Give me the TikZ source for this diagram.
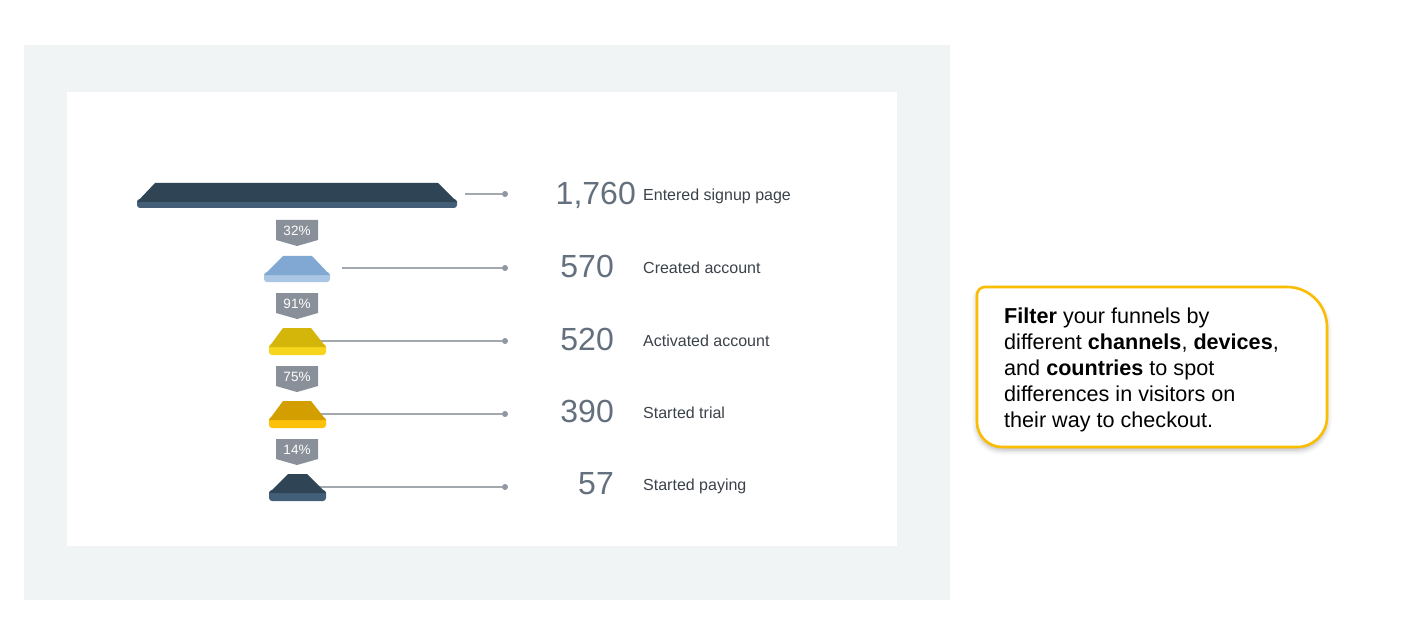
\documentclass[tikz,border=0pt]{standalone}
\usepackage{fontspec}
\setmainfont{Liberation Sans}
\usepackage{tikz}
\usetikzlibrary{positioning, shadows.blur}

\definecolor{bgGray}{HTML}{F1F4F5}
\definecolor{darkMain}{HTML}{2F4455}
\definecolor{darkBand}{HTML}{435F78}
\definecolor{blueMain}{HTML}{80A8D2}
\definecolor{blueBand}{HTML}{A9C6E4}
\definecolor{yellowMain}{HTML}{D4B60A}
\definecolor{yellowBand}{HTML}{F7D51D}
\definecolor{orangeMain}{HTML}{D39E00}
\definecolor{orangeBand}{HTML}{FDC10A}
\definecolor{badgeGray}{HTML}{8A9099}
\definecolor{lineGray}{HTML}{A3A8AF}
\definecolor{dotGray}{HTML}{8F97A1}
\definecolor{numGray}{HTML}{64707D}
\definecolor{lblGray}{HTML}{3C4249}
\definecolor{tipYellow}{HTML}{FBBC04}

\begin{document}
\begin{tikzpicture}[x=1pt, y=-1pt,
    funnel line/.style={draw=lineGray, line width=1.2pt},
    dotnode/.style={circle, fill=dotGray, inner sep=0pt, minimum size=6pt},
    pct/.style={text=white, inner sep=0pt, font=\fontsize{13.5}{13.5}\selectfont},
    num/.style={text=numGray, inner sep=0pt, anchor=base east, font=\fontsize{32}{32}\selectfont},
    lbl/.style={text=lblGray, inner sep=0pt, anchor=base west, font=\fontsize{16}{16}\selectfont}]
    \useasboundingbox (0,0) rectangle (1407,636);

    % Hintergrund
    \fill[bgGray] (24,45) rectangle (950,600);
    \fill[white] (67,92) rectangle (897,546);

    % Verbindungslinien mit Punkten
    \foreach \x/\y [count=\i] in {465/194, 342/268, 300/341, 300/414, 300/487} {
        \coordinate (b\i) at (\x,\y);
        \node[dotnode] (d\i) at (505,\y) {};
        \draw[funnel line] (b\i) -- (d\i);
    }

    % Trichterbalken
    \foreach \t/\h/\tl/\tr/\bl/\br/\cm/\cb in {183/25/155/438/137/457/darkMain/darkBand,
            256/26/283/312/264/330/blueMain/blueBand,
            328/27/283/311/269/326/yellowMain/yellowBand,
            401/27/283/311/269/326/orangeMain/orangeBand,
            474/27/288/307/269/326/darkMain/darkBand} {
        \fill[\cb, rounded corners=3pt] (\bl,\t+16) rectangle (\br,\t+\h);
        \fill[\cm] (\tl,\t) -- (\tr,\t) -- (\br,\t+19) -- (\bl,\t+19) -- cycle;
    }

    % Prozent-Marken
    \foreach \y/\p [count=\i] in {220/32, 293/91, 366/75, 439/14} {
        \fill[badgeGray] (276,\y) -- (318,\y) -- (318,\y+20) -- (297,\y+26) -- (276,\y+20) -- cycle;
        \node[pct] (p\i) at (297,\y+11) {\p\%};
    }

    % Zahlen und Beschriftungen
    \node[num] (n1) at (636,205) {1,760};
    \node[lbl] (l1) at (643,201) {Entered signup page};
    \foreach \y/\n/\s [count=\i from 2] in {277/570/Created account, 350/520/Activated account,
            422/390/Started trial, 494/57/Started paying} {
        \node[num] (n\i) at (614,\y) {\n};
        \node[lbl] (l\i) at (643,\y-4) {\s};
    }

    % Hinweiskasten
    \fill[white, blur shadow={shadow xshift=0pt, shadow yshift=-3pt, shadow blur radius=5pt, shadow opacity=30}]
        (985,287) -- (1287,287) arc (270:360:40) -- (1327,417) arc (0:90:30)
        -- (1002,447) arc (90:180:25) -- (977,295) arc (180:270:8) -- cycle;
    \draw[tipYellow, line width=2.6pt]
        (985,287) -- (1287,287) arc (270:360:40) -- (1327,417) arc (0:90:30)
        -- (1002,447) arc (90:180:25) -- (977,295) arc (180:270:8) -- cycle;
    \node[anchor=north west, inner sep=0pt, align=left, text=black,
          font=\fontsize{21.6}{26}\selectfont] (tip) at (1004,308)
        {\textbf{Filter} your funnels by\\
         different \textbf{channels}, \textbf{devices},\\
         and \textbf{countries} to spot\\
         differences in visitors on\\
         their way to checkout.};
\end{tikzpicture}
\end{document}
